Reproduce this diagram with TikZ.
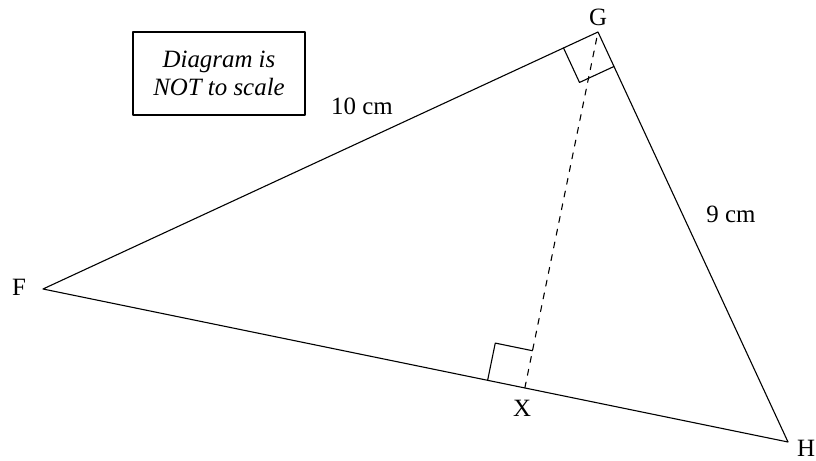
\documentclass[tikz,border=0pt]{standalone}
\usepackage{fontspec}
\setmainfont{Liberation Serif}
\usetikzlibrary{calc}
\begin{document}
\begin{tikzpicture}[x=1bp,y=-1bp,line join=round,line cap=round,line width=1.1bp]
	\tikzset{every node/.style={font=\fontsize{25}{28}\selectfont,inner sep=0pt}}
	\useasboundingbox (0,0) rectangle (816,461);
	\coordinate (F) at (43,289);
	\coordinate (G) at (598,32);
	\coordinate (H) at (788,442);
	\coordinate (X) at ($(F)!(G)!(H)$);
	\draw (F)--(G)--(H)--cycle;
	\draw[dash pattern=on 6bp off 7bp] (X)--(G);
	% right angles at G and X
	\coordinate (Gf) at ($(G)!38bp!(F)$);
	\coordinate (Gh) at ($(G)!38bp!(H)$);
	\draw (Gf)--($(Gf)+(Gh)-(G)$)--(Gh);
	\coordinate (Xf) at ($(X)!38bp!(F)$);
	\coordinate (Xg) at ($(X)!38bp!(G)$);
	\draw (Xf)--($(Xf)+(Xg)-(X)$)--(Xg);
	% labels
	\node (lF) at (19,287) {F};
	\node (lG) at (598,17) {G};
	\node (lH) at (806,448) {H};
	\node (lX) at (522,408) {X};
	\node (lFG) at (362,106) {10 cm};
	\node (lGH) at (731,214) {9 cm};
	\node[draw,align=center,font=\fontsize{25}{28}\selectfont\itshape,minimum width=172bp,minimum height=83bp] (note) at (219,73.5) {Diagram is\\NOT to scale};
\end{tikzpicture}
\end{document}
